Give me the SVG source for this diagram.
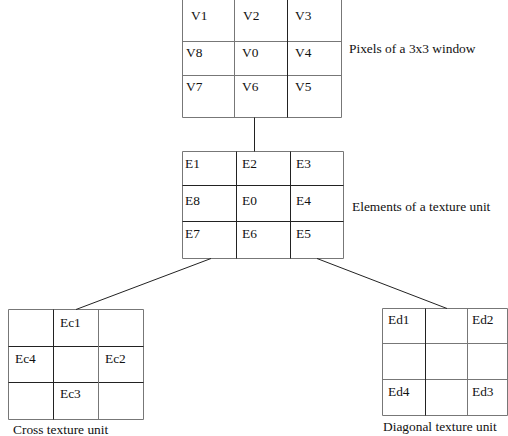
<svg xmlns="http://www.w3.org/2000/svg" width="508" height="436" viewBox="0 0 508 436">
<style>
text{font-family:'Liberation Serif','DejaVu Serif','Times New Roman',serif;font-size:13.4px;fill:#111}
.g{fill:none;stroke:#777;stroke-width:1}
.d{fill:none;stroke:#222;stroke-width:1}
.c{fill:none;stroke:#222;stroke-width:1}
</style>
<rect width="508" height="436" fill="#fff"/>
<g id="pixels">
<path class="g" d="M182.5 0V117.5H341.5V0M182.5 41.5H341.5M182.5 75.5H341.5M234.5 0V117.5"/>
<path class="d" d="M287.5 0V117.5"/>
<text x="191" y="20">V1</text><text x="243" y="20">V2</text><text x="295" y="20">V3</text>
<text x="186" y="57">V8</text><text x="242" y="57">V0</text><text x="295" y="57">V4</text>
<text x="186" y="91">V7</text><text x="242" y="91">V6</text><text x="295" y="91">V5</text>
<text x="349" y="53">Pixels of a 3x3 window</text>
</g>
<g id="elements">
<path class="g" d="M182.5 151.5H343.5V258.5H182.5Z"/>
<path class="d" d="M182.5 185.5H343.5M182.5 221.5H343.5M236.5 151.5V258.5M290.5 151.5V258.5"/>
<text x="185" y="168">E1</text><text x="242" y="168">E2</text><text x="296" y="168">E3</text>
<text x="185" y="205">E8</text><text x="242" y="205">E0</text><text x="296" y="205">E4</text>
<text x="185" y="238">E7</text><text x="242" y="238">E6</text><text x="296" y="238">E5</text>
<text x="352" y="211">Elements of a texture unit</text>
</g>
<g id="cross">
<path class="g" d="M8.5 309.5H143.5V419.5H8.5Z"/>
<path class="d" d="M8.5 346.5H143.5M8.5 382.5H143.5M53.5 309.5V419.5"/>
<path class="g" d="M98.5 309.5V419.5"/>
<text x="60" y="327">Ec1</text>
<text x="15" y="363">Ec4</text><text x="105" y="363">Ec2</text>
<text x="60" y="398">Ec3</text>
<text x="13" y="434">Cross texture unit</text>
</g>
<g id="diagonal">
<path class="g" d="M382.5 308.5H507.5V415.5H382.5Z"/>
<path class="g" d="M382.5 343.5H507.5M382.5 379.5H507.5M467.5 308.5V415.5"/>
<path class="d" d="M425.5 308.5V415.5"/>
<text x="388" y="324">Ed1</text><text x="472" y="324">Ed2</text>
<text x="388" y="396">Ed4</text><text x="472" y="396">Ed3</text>
<text x="383" y="431">Diagonal texture unit</text>
</g>
<g id="connectors">
<path class="c" d="M254.5 117.5V151.5"/>
<path class="c" d="M211 258.5L76 309.5"/>
<path class="c" d="M317 258.5L447 308.5"/>
</g>
</svg>
